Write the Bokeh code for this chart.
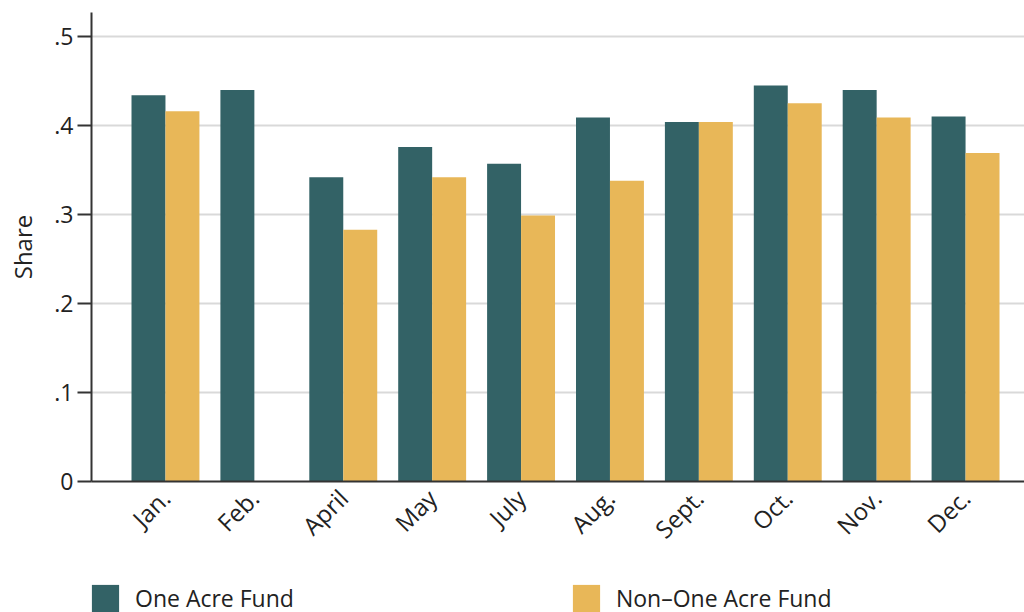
import math
import numpy as np
from bokeh.plotting import figure
from bokeh.layouts import column
from bokeh.models import (Range1d, FixedTicker, Legend, LegendItem)
from bokeh.embed import file_html
from bokeh.resources import INLINE

months = ["Jan.", "Feb.", "April", "May", "July", "Aug.", "Sept.", "Oct.", "Nov.", "Dec."]
oaf = [0.434, 0.440, 0.342, 0.376, 0.357, 0.409, 0.404, 0.445, 0.440, 0.410]
non_oaf = [0.416, float("nan"), 0.283, 0.342, 0.299, 0.338, 0.404, 0.425, 0.409, 0.369]
y_ticks = [0, 0.1, 0.2, 0.3, 0.4, 0.5]
y_tick_labels = ["0", ".1", ".2", ".3", ".4", ".5"]
series_names = ["One Acre Fund", "Non–One Acre Fund"]

TEAL = "#336266"
GOLD = "#E8B758"
FONT = "Open Sans"
TXT = "#222222"

idx = np.arange(len(months))
bw = 0.382

p = figure(width=1024, height=572, output_backend="svg",
           toolbar_location=None,
           x_range=Range1d(-0.832, 9.663), y_range=Range1d(0, 0.527),
           min_border_left=91, min_border_right=0, min_border_top=12,
           min_border_bottom=91, background_fill_color="white",
           border_fill_color="white", outline_line_color=None)

r1 = p.vbar(x=idx - bw / 2, top=oaf, width=bw, fill_color=TEAL, line_color=None)
r2 = p.vbar(x=idx + bw / 2, top=non_oaf, width=bw, fill_color=GOLD, line_color=None)

# axes
p.xaxis.ticker = FixedTicker(ticks=list(idx))
p.xaxis.major_label_overrides = {int(i): m for i, m in zip(idx, months)}
p.xaxis.major_label_orientation = math.pi / 4
p.xaxis.major_tick_out = 0
p.xaxis.major_tick_in = 0
p.xaxis.minor_tick_out = 0
p.xaxis.minor_tick_in = 0
p.xaxis.axis_line_color = "#333333"
p.xaxis.axis_line_width = 2
p.xaxis.major_label_text_font = FONT
p.xaxis.major_label_text_font_size = "24px"
p.xaxis.major_label_text_color = TXT
p.xaxis.major_label_standoff = 12

p.yaxis.ticker = FixedTicker(ticks=y_ticks)
p.yaxis.major_label_overrides = {t: l for t, l in zip(y_ticks, y_tick_labels)}
p.yaxis.major_tick_out = 14
p.yaxis.major_tick_in = 0
p.yaxis.minor_tick_out = 0
p.yaxis.minor_tick_in = 0
p.yaxis.major_tick_line_color = "#333333"
p.yaxis.major_tick_line_width = 2
p.yaxis.axis_line_color = "#333333"
p.yaxis.axis_line_width = 2
p.yaxis.major_label_text_font = FONT
p.yaxis.major_label_text_font_size = "23px"
p.yaxis.major_label_text_color = TXT
p.yaxis.major_label_standoff = 4
p.yaxis.major_label_orientation = "horizontal"
p.yaxis.axis_label = "Share"
p.yaxis.axis_label_text_font = FONT
p.yaxis.axis_label_text_font_size = "24px"
p.yaxis.axis_label_text_font_style = "normal"
p.yaxis.axis_label_text_color = TXT
p.yaxis.axis_label_standoff = 12

p.xgrid.grid_line_color = None
p.ygrid.ticker = FixedTicker(ticks=y_ticks[1:])
p.ygrid.grid_line_color = "#d9d9d9"
p.ygrid.grid_line_width = 2

# legend strip below the chart (frame aligned with the main chart's frame)
p2 = figure(width=1024, height=40, output_backend="svg", toolbar_location=None,
            x_range=Range1d(-0.832, 9.663), y_range=Range1d(10, 11),
            x_axis_location=None, y_axis_location=None,
            min_border=0, outline_line_color=None,
            background_fill_color="white", border_fill_color="white")
p2.xgrid.grid_line_color = None
p2.ygrid.grid_line_color = None
# same series drawn in a y-range where they are out of view; they only feed the legend
l1 = p2.vbar(x=idx - bw / 2, top=oaf, width=bw, fill_color=TEAL, line_color=None)
l2 = p2.vbar(x=idx + bw / 2, top=non_oaf, width=bw, fill_color=GOLD, line_color=None)

legend = Legend(items=[LegendItem(label=series_names[0], renderers=[l1]),
                       LegendItem(label=series_names[1], renderers=[l2])],
                orientation="horizontal", location=(-3, -3),
                glyph_width=34, glyph_height=34, label_standoff=13,
                spacing=275, padding=0, margin=0,
                border_line_alpha=0, background_fill_alpha=0,
                label_text_font=FONT, label_text_font_size="23px",
                label_text_color=TXT)
p2.add_layout(legend, "center")

layout = column(p, p2, spacing=0)
open("out.html", "w").write(file_html(layout, INLINE))
